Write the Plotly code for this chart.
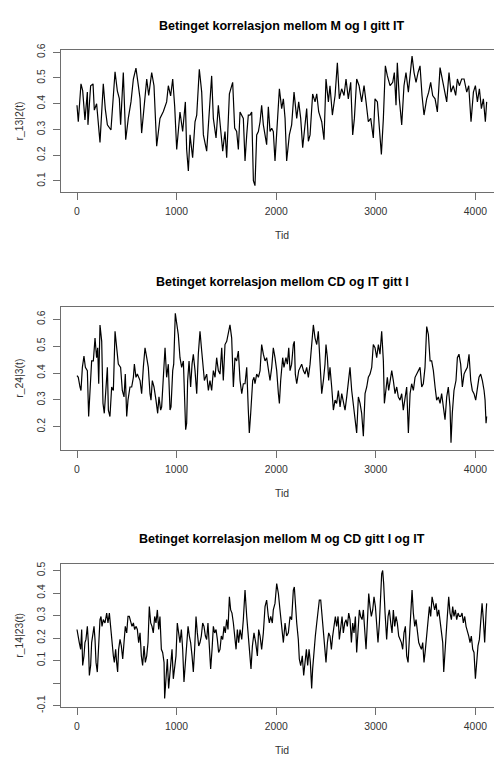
import plotly.graph_objects as go

# ---- data (time index, conditional correlation) ----
t1 = [0, 13, 40, 57, 80, 104, 110, 137, 161, 174, 197, 231, 264, 284, 305, 341, 382, 405, 425, 438,
      465, 489, 515, 542, 566, 592, 616, 633, 649, 683, 700, 720, 750, 773, 800, 833, 867, 900, 917, 940,
      961, 981, 1001, 1034, 1061, 1088, 1101, 1118, 1135, 1161, 1185, 1202, 1228, 1252, 1269, 1302, 1329, 1352, 1369, 1396,
      1419, 1436, 1463, 1486, 1503, 1530, 1563, 1583, 1603, 1620, 1637, 1670, 1687, 1704, 1720, 1737, 1754, 1771, 1787, 1804,
      1821, 1838, 1854, 1871, 1888, 1904, 1921, 1938, 1955, 1971, 1988, 2005, 2032, 2055, 2072, 2089, 2105, 2132, 2155, 2179,
      2206, 2226, 2246, 2266, 2289, 2306, 2323, 2340, 2366, 2390, 2407, 2427, 2457, 2480, 2500, 2524, 2540, 2564, 2591, 2614,
      2634, 2657, 2681, 2701, 2724, 2748, 2768, 2785, 2808, 2832, 2858, 2882, 2902, 2925, 2949, 2975, 2992, 3016, 3036, 3056,
      3076, 3096, 3116, 3143, 3170, 3186, 3203, 3216, 3236, 3260, 3283, 3303, 3327, 3344, 3364, 3384, 3404, 3424, 3444, 3464,
      3484, 3511, 3531, 3551, 3571, 3595, 3618, 3645, 3668, 3688, 3712, 3735, 3755, 3778, 3802, 3819, 3839, 3862, 3886, 3913,
      3933, 3956, 3980, 4000, 4020, 4040, 4060, 4080, 4100, 4113]
r1 = [0.394, 0.330, 0.477, 0.451, 0.337, 0.445, 0.318, 0.470, 0.477, 0.375, 0.400, 0.250, 0.477, 0.380, 0.318, 0.298, 0.524, 0.450, 0.420, 0.318,
      0.521, 0.260, 0.343, 0.407, 0.496, 0.538, 0.470, 0.420, 0.286, 0.430, 0.496, 0.432, 0.521, 0.470, 0.235, 0.343, 0.370, 0.407, 0.470, 0.430,
      0.496, 0.388, 0.222, 0.368, 0.292, 0.407, 0.222, 0.139, 0.279, 0.190, 0.330, 0.356, 0.534, 0.445, 0.279, 0.216, 0.400, 0.508, 0.343, 0.267,
      0.394, 0.330, 0.216, 0.292, 0.190, 0.438, 0.483, 0.305, 0.292, 0.222, 0.368, 0.343, 0.178, 0.279, 0.356, 0.356, 0.368, 0.101, 0.082, 0.279,
      0.292, 0.330, 0.394, 0.318, 0.279, 0.241, 0.388, 0.292, 0.305, 0.292, 0.178, 0.279, 0.458, 0.381, 0.419, 0.343, 0.178, 0.279, 0.318, 0.445,
      0.343, 0.407, 0.343, 0.229, 0.330, 0.381, 0.254, 0.279, 0.438, 0.407, 0.438, 0.368, 0.330, 0.260, 0.496, 0.407, 0.470, 0.356, 0.432, 0.559,
      0.419, 0.458, 0.432, 0.496, 0.419, 0.483, 0.279, 0.343, 0.496, 0.470, 0.407, 0.470, 0.407, 0.330, 0.343, 0.267, 0.419, 0.407, 0.305, 0.203,
      0.343, 0.547, 0.508, 0.470, 0.483, 0.521, 0.394, 0.559, 0.419, 0.318, 0.470, 0.521, 0.445, 0.508, 0.585, 0.521, 0.483, 0.521, 0.547, 0.432,
      0.356, 0.419, 0.445, 0.483, 0.432, 0.419, 0.368, 0.540, 0.496, 0.445, 0.407, 0.521, 0.445, 0.470, 0.432, 0.496, 0.470, 0.496, 0.496, 0.445,
      0.470, 0.330, 0.445, 0.470, 0.407, 0.458, 0.381, 0.419, 0.330, 0.407]

t2 = [0, 13, 30, 40, 54, 70, 84, 104, 117, 131, 147, 164, 181, 197, 208, 218, 231, 248, 261, 274,
      291, 305, 315, 331, 348, 365, 382, 398, 415, 438, 455, 472, 485, 499, 512, 532, 549, 566, 576, 592,
      606, 633, 649, 666, 683, 700, 716, 733, 743, 756, 773, 793, 810, 823, 840, 850, 867, 884, 900, 917,
      934, 944, 961, 971, 987, 1001, 1017, 1034, 1051, 1068, 1078, 1091, 1101, 1111, 1125, 1141, 1155, 1168, 1185, 1202,
      1218, 1235, 1252, 1269, 1279, 1302, 1319, 1335, 1352, 1369, 1386, 1402, 1419, 1436, 1453, 1469, 1486, 1503, 1520, 1536,
      1553, 1570, 1586, 1603, 1620, 1637, 1654, 1670, 1687, 1704, 1720, 1730, 1744, 1764, 1777, 1787, 1804, 1821, 1838, 1854,
      1871, 1888, 1904, 1921, 1938, 1955, 1971, 1988, 2005, 2022, 2032, 2045, 2065, 2078, 2098, 2112, 2126, 2139, 2155, 2172,
      2182, 2192, 2206, 2226, 2239, 2256, 2273, 2289, 2306, 2323, 2340, 2356, 2373, 2390, 2407, 2423, 2440, 2457, 2474, 2490,
      2500, 2514, 2527, 2540, 2557, 2574, 2591, 2607, 2624, 2641, 2658, 2674, 2691, 2708, 2725, 2741, 2758, 2775, 2791, 2808,
      2825, 2842, 2858, 2875, 2892, 2909, 2925, 2942, 2959, 2975, 2992, 3009, 3026, 3042, 3059, 3076, 3086, 3103, 3116, 3129,
      3143, 3160, 3176, 3193, 3210, 3226, 3243, 3260, 3276, 3293, 3310, 3327, 3344, 3360, 3377, 3394, 3411, 3427, 3444, 3461,
      3477, 3494, 3511, 3528, 3545, 3561, 3578, 3595, 3611, 3628, 3645, 3661, 3678, 3695, 3712, 3728, 3745, 3755, 3768, 3785,
      3805, 3819, 3835, 3852, 3869, 3886, 3902, 3919, 3936, 3953, 3969, 3986, 4003, 4020, 4036, 4053, 4070, 4087, 4097, 4107, 4113]
r2 = [0.390, 0.384, 0.348, 0.335, 0.421, 0.463, 0.421, 0.409, 0.238, 0.335, 0.445, 0.445, 0.530, 0.457, 0.494, 0.360, 0.579, 0.518, 0.287, 0.250,
      0.335, 0.421, 0.262, 0.238, 0.348, 0.335, 0.555, 0.494, 0.433, 0.421, 0.335, 0.311, 0.396, 0.238, 0.299, 0.348, 0.348, 0.384, 0.433, 0.384,
      0.396, 0.372, 0.323, 0.421, 0.494, 0.457, 0.421, 0.323, 0.299, 0.372, 0.348, 0.299, 0.250, 0.311, 0.262, 0.274, 0.396, 0.494, 0.384, 0.433,
      0.262, 0.274, 0.409, 0.433, 0.622, 0.579, 0.543, 0.457, 0.421, 0.445, 0.311, 0.189, 0.213, 0.372, 0.445, 0.348, 0.433, 0.470, 0.409, 0.323,
      0.470, 0.555, 0.482, 0.409, 0.372, 0.396, 0.335, 0.372, 0.335, 0.409, 0.384, 0.457, 0.409, 0.396, 0.494, 0.372, 0.506, 0.518, 0.555, 0.579,
      0.530, 0.348, 0.457, 0.445, 0.482, 0.372, 0.323, 0.360, 0.360, 0.421, 0.262, 0.177, 0.250, 0.372, 0.384, 0.360, 0.396, 0.384, 0.409, 0.506,
      0.470, 0.445, 0.457, 0.409, 0.372, 0.421, 0.494, 0.457, 0.409, 0.323, 0.287, 0.372, 0.457, 0.421, 0.457, 0.433, 0.494, 0.409, 0.433, 0.506,
      0.518, 0.396, 0.360, 0.409, 0.421, 0.433, 0.409, 0.396, 0.421, 0.384, 0.433, 0.494, 0.579, 0.530, 0.506, 0.555, 0.457, 0.323, 0.372, 0.433,
      0.506, 0.457, 0.372, 0.421, 0.348, 0.262, 0.299, 0.287, 0.335, 0.274, 0.323, 0.299, 0.262, 0.311, 0.372, 0.421, 0.335, 0.274, 0.226, 0.177,
      0.311, 0.287, 0.250, 0.165, 0.323, 0.348, 0.384, 0.396, 0.421, 0.506, 0.494, 0.457, 0.506, 0.470, 0.555, 0.445, 0.287, 0.348, 0.384, 0.335,
      0.372, 0.409, 0.372, 0.323, 0.348, 0.311, 0.299, 0.323, 0.262, 0.311, 0.348, 0.177, 0.323, 0.360, 0.335, 0.384, 0.396, 0.409, 0.421, 0.348,
      0.360, 0.421, 0.573, 0.543, 0.445, 0.445, 0.409, 0.348, 0.299, 0.311, 0.287, 0.323, 0.262, 0.226, 0.311, 0.348, 0.274, 0.140, 0.250, 0.335,
      0.372, 0.457, 0.470, 0.433, 0.348, 0.396, 0.409, 0.421, 0.470, 0.372, 0.335, 0.323, 0.299, 0.335, 0.384, 0.396, 0.372, 0.335, 0.299, 0.213, 0.238]

t3 = [0, 13, 23, 37, 47, 57, 70, 80, 90, 104, 114, 124, 137, 147, 157, 171, 181, 191, 204, 218,
      231, 241, 251, 264, 281, 298, 311, 325, 338, 351, 365, 375, 388, 398, 408, 418, 432, 445, 459, 472,
      485, 499, 512, 525, 539, 552, 566, 579, 592, 606, 619, 633, 646, 659, 673, 686, 700, 713, 726, 740,
      753, 766, 780, 793, 807, 820, 833, 847, 860, 874, 880, 894, 907, 920, 934, 944, 954, 967, 981, 994,
      1007, 1021, 1034, 1048, 1061, 1074, 1088, 1101, 1115, 1128, 1141, 1155, 1168, 1181, 1195, 1208, 1222, 1235, 1248, 1262,
      1275, 1289, 1302, 1315, 1329, 1342, 1356, 1369, 1382, 1396, 1409, 1422, 1436, 1449, 1463, 1476, 1489, 1503, 1516, 1530,
      1543, 1556, 1570, 1583, 1597, 1610, 1623, 1637, 1654, 1670, 1687, 1704, 1720, 1737, 1747, 1761, 1777, 1794, 1811, 1824,
      1838, 1854, 1871, 1888, 1904, 1921, 1931, 1945, 1961, 1971, 1988, 2005, 2022, 2038, 2055, 2072, 2089, 2105, 2122, 2139,
      2155, 2165, 2172, 2182, 2192, 2206, 2222, 2232, 2246, 2262, 2276, 2289, 2303, 2316, 2330, 2343, 2356, 2366, 2380, 2393,
      2407, 2420, 2433, 2447, 2460, 2474, 2487, 2500, 2514, 2527, 2540, 2554, 2567, 2581, 2594, 2607, 2621, 2634, 2648, 2661,
      2674, 2688, 2701, 2714, 2728, 2741, 2755, 2768, 2781, 2795, 2808, 2822, 2835, 2848, 2862, 2875, 2888, 2902, 2915, 2929,
      2942, 2955, 2969, 2982, 2996, 3009, 3022, 3036, 3049, 3059, 3069, 3079, 3093, 3109, 3123, 3136, 3150, 3163, 3176, 3190,
      3203, 3216, 3230, 3243, 3257, 3270, 3283, 3297, 3310, 3324, 3337, 3350, 3364, 3377, 3391, 3404, 3417, 3431, 3444, 3458,
      3471, 3484, 3498, 3511, 3524, 3538, 3551, 3565, 3578, 3591, 3605, 3618, 3632, 3645, 3658, 3672, 3682, 3692, 3705, 3718,
      3732, 3745, 3759, 3772, 3785, 3799, 3812, 3826, 3839, 3852, 3866, 3879, 3893, 3906, 3919, 3933, 3946, 3959, 3973, 3986,
      4000, 4013, 4026, 4040, 4053, 4067, 4080, 4093, 4107, 4113]
r3 = [0.238, 0.194, 0.180, 0.150, 0.238, 0.078, 0.121, 0.180, 0.194, 0.252, 0.180, 0.034, 0.078, 0.180, 0.223, 0.252, 0.194, 0.092, 0.049, 0.165,
      0.282, 0.296, 0.252, 0.282, 0.267, 0.311, 0.267, 0.311, 0.238, 0.180, 0.121, 0.092, 0.150, 0.092, 0.049, 0.150, 0.194, 0.165, 0.107, 0.180,
      0.252, 0.223, 0.296, 0.296, 0.267, 0.252, 0.267, 0.238, 0.252, 0.238, 0.180, 0.223, 0.121, 0.078, 0.165, 0.092, 0.121, 0.180, 0.340, 0.267,
      0.252, 0.223, 0.296, 0.267, 0.325, 0.238, 0.296, 0.150, 0.136, 0.092, -0.068, 0.034, 0.107, -0.024, 0.049, 0.092, 0.150, 0.019, 0.063, 0.121,
      0.267, 0.209, 0.180, 0.238, 0.150, 0.005, 0.107, 0.180, 0.252, 0.209, 0.180, 0.121, 0.049, 0.150, 0.296, 0.223, 0.165, 0.180, 0.209, 0.267,
      0.252, 0.209, 0.194, 0.267, 0.180, 0.063, 0.150, 0.252, 0.223, 0.238, 0.194, 0.136, 0.150, 0.209, 0.194, 0.252, 0.223, 0.282, 0.238, 0.383,
      0.325, 0.311, 0.267, 0.194, 0.150, 0.238, 0.180, 0.238, 0.194, 0.282, 0.413, 0.296, 0.209, 0.150, 0.063, 0.165, 0.223, 0.180, 0.121, 0.238,
      0.209, 0.150, 0.223, 0.340, 0.369, 0.296, 0.267, 0.296, 0.267, 0.325, 0.354, 0.442, 0.398, 0.325, 0.252, 0.180, 0.267, 0.209, 0.223, 0.296,
      0.282, 0.340, 0.413, 0.427, 0.354, 0.267, 0.194, 0.107, 0.078, 0.121, 0.034, 0.107, 0.150, 0.078, 0.150, 0.092, -0.024, 0.063, 0.150, 0.209,
      0.267, 0.325, 0.369, 0.369, 0.296, 0.252, 0.180, 0.092, 0.180, 0.223, 0.209, 0.150, 0.209, 0.252, 0.296, 0.252, 0.296, 0.194, 0.252, 0.296,
      0.223, 0.267, 0.282, 0.252, 0.311, 0.282, 0.180, 0.267, 0.223, 0.296, 0.136, 0.252, 0.325, 0.296, 0.282, 0.325, 0.223, 0.150, 0.267, 0.398,
      0.340, 0.296, 0.325, 0.383, 0.340, 0.252, 0.180, 0.267, 0.369, 0.485, 0.500, 0.442, 0.311, 0.194, 0.296, 0.325, 0.267, 0.223, 0.325, 0.252,
      0.296, 0.267, 0.209, 0.194, 0.180, 0.150, 0.223, 0.252, 0.121, 0.092, 0.194, 0.296, 0.413, 0.311, 0.252, 0.282, 0.223, 0.180, 0.165, 0.150,
      0.180, 0.092, 0.150, 0.209, 0.252, 0.340, 0.296, 0.383, 0.354, 0.325, 0.354, 0.296, 0.325, 0.267, 0.238, 0.180, 0.049, 0.150, 0.209, 0.296,
      0.383, 0.311, 0.282, 0.340, 0.296, 0.325, 0.282, 0.311, 0.296, 0.296, 0.311, 0.267, 0.296, 0.252, 0.223, 0.209, 0.180, 0.209, 0.150, 0.136,
      0.019, 0.107, 0.165, 0.194, 0.296, 0.354, 0.282, 0.180, 0.311, 0.354]

titles = ["Betinget korrelasjon mellom M og I gitt IT",
          "Betinget korrelasjon mellom CD og IT gitt I",
          "Betinget korrelasjon mellom M og CD gitt I og IT"]
ylabels = ["r_13|2(t)", "r_24|3(t)", "r_14|23(t)"]
xlabel = "Tid"
xticks = [0, 1000, 2000, 3000, 4000]
yticks = [[0.1, 0.2, 0.3, 0.4, 0.5, 0.6],
          [0.2, 0.3, 0.4, 0.5, 0.6],
          [-0.1, 0.0, 0.1, 0.2, 0.3, 0.4, 0.5]]
yticktext = [["0.1", "0.2", "0.3", "0.4", "0.5", "0.6"],
             ["0.2", "0.3", "0.4", "0.5", "0.6"],
             ["-0.1", "", "0.1", "0.2", "0.3", "0.4", "0.5"]]
yranges = [[0.058, 0.6076], [0.1147, 0.6465], [-0.1044, 0.5288]]
xrange_ = [-160.6, 4186.7]

# ---- layout geometry (pixels) ----
W, H = 494, 764
left = 61
boxes = [(44, 188), (305, 450.3), (566.7, 711.7)]

series = [(t1, r1), (t2, r2), (t3, r3)]
fig = go.Figure()
FONT = "Liberation Sans, Arial, sans-serif"
AX = "#6e6e6e"
TXT = "#333"

annotations = []
for i, ((tt, rr), (top, bot)) in enumerate(zip(series, boxes)):
    n = i + 1
    xa = "x" if n == 1 else f"x{n}"
    ya = "y" if n == 1 else f"y{n}"
    fig.add_trace(go.Scatter(x=tt, y=rr, mode="lines", xaxis=xa, yaxis=ya,
                             line=dict(color="black", width=1.2), showlegend=False,
                             hoverinfo="skip"))
    dom_y = [1 - bot / H, 1 - top / H]
    xkey = "xaxis" if n == 1 else f"xaxis{n}"
    ykey = "yaxis" if n == 1 else f"yaxis{n}"
    fig.update_layout(**{
        xkey: dict(domain=[left / W, 1], range=xrange_, anchor=ya,
                   tickvals=xticks, ticktext=[str(v) for v in xticks],
                   ticks="outside", ticklen=7, tickwidth=1, tickcolor=AX,
                   showline=True, linecolor=AX, linewidth=1, mirror=True,
                   showgrid=False, zeroline=False,
                   tickfont=dict(family=FONT, size=10.4, color=TXT),
                   ticklabelstandoff=3),
        ykey: dict(domain=dom_y, range=yranges[i], anchor=xa,
                   tickvals=yticks[i], ticktext=yticktext[i],
                   ticks="outside", ticklen=7, tickwidth=1, tickcolor=AX,
                   showline=True, linecolor=AX, linewidth=1,
                   showgrid=False, zeroline=False, tickangle=-90,
                   tickfont=dict(family=FONT, size=10.4, color=TXT),
                   ticklabelstandoff=4),
    })
    annotations.append(dict(text=f"<b>{titles[i]}</b>", x=282 / W, y=1 - (top - 25) / H,
                            xref="paper", yref="paper", xanchor="center", yanchor="middle",
                            showarrow=False, font=dict(family=FONT, size=12.5, color="black")))
    annotations.append(dict(text=xlabel, x=282 / W, y=1 - (bot + 44.5) / H,
                            xref="paper", yref="paper", xanchor="center", yanchor="middle",
                            showarrow=False, font=dict(family=FONT, size=10.4, color=TXT)))
    annotations.append(dict(text=ylabels[i], x=19.5 / W, y=1 - ((top + bot) / 2) / H,
                            xref="paper", yref="paper", xanchor="center", yanchor="middle",
                            textangle=-90, showarrow=False,
                            font=dict(family=FONT, size=10.4, color=TXT)))

fig.update_layout(width=W, height=H, margin=dict(l=0, r=0, t=0, b=0),
                  paper_bgcolor="white", plot_bgcolor="white",
                  annotations=annotations)
fig.write_html("out.html")
